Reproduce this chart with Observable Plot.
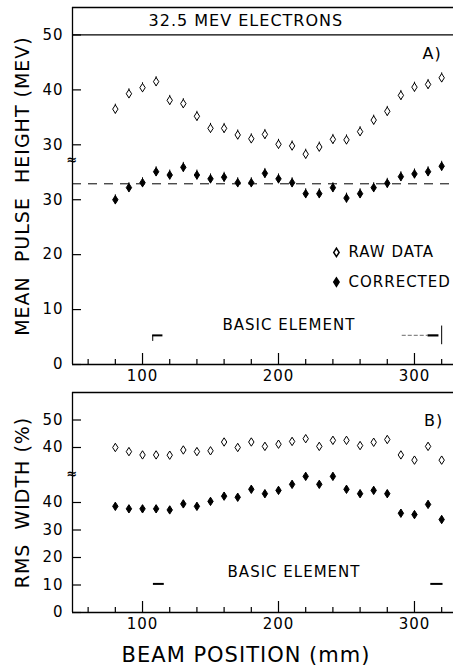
<!DOCTYPE html>
<html>
<head>
<meta charset="utf-8">
<script src="https://cdn.jsdelivr.net/npm/d3@7"></script>
<script src="https://cdn.jsdelivr.net/npm/@observablehq/plot@0.6"></script>
<style>
  html, body { margin: 0; padding: 0; background: #fff; }
  #wrap { position: relative; width: 453px; height: 671px; background: #fff; overflow: hidden; }
  #top { position: absolute; left: 0; top: 0; }
  #bot { position: absolute; left: 0; top: 388px; }
  #xtitle { position: absolute; left: 113px; top: 643px; width: 266px; text-align: center;
            font-family: "DejaVu Sans", sans-serif; font-size: 21px; letter-spacing: 1px; color: #000; white-space: nowrap; }
  svg text { letter-spacing: 1px; }
</style>
</head>
<body>
<div id="wrap">
  <div id="top"></div>
  <div id="bot"></div>
  <div id="xtitle">BEAM POSITION (mm)</div>
</div>
<script>
// ---------------- data ----------------
const beamPositions = [80, 90, 100, 110, 120, 130, 140, 150, 160, 170, 180, 190, 200,
                       210, 220, 230, 240, 250, 260, 270, 280, 290, 300, 310, 320];
// Panel A: mean pulse height (MeV)
const pulseRaw = [36.5, 39.3, 40.4, 41.5, 38.1, 37.5, 35.2, 33.0, 33.0, 31.8, 31.1, 31.9, 30.1,
                  29.8, 28.3, 29.6, 31.0, 30.9, 32.4, 34.5, 36.1, 39.0, 40.5, 41.0, 42.2];
const pulseCorrected = [30.0, 32.2, 33.1, 35.1, 34.5, 35.9, 34.5, 33.8, 34.1, 33.1, 33.1, 34.8, 33.8,
                        33.1, 31.1, 31.1, 32.2, 30.3, 31.1, 32.2, 33.0, 34.2, 34.7, 35.1, 36.1];
const pulseReference = 32.9;
// Panel B: RMS width (%)
const widthRaw = [40.0, 38.5, 37.3, 37.3, 37.2, 39.1, 38.5, 38.8, 42.0, 40.0, 42.0, 40.4, 41.2,
                  42.2, 43.2, 40.4, 42.6, 42.6, 40.7, 41.9, 42.9, 37.3, 35.4, 40.4, 35.4];
const widthCorrected = [38.6, 37.7, 37.7, 37.7, 37.3, 39.5, 38.6, 40.4, 42.3, 41.9, 44.8, 43.2, 44.4,
                        46.6, 49.5, 46.6, 49.5, 44.8, 43.2, 44.4, 43.2, 36.1, 35.6, 39.3, 33.8];
// axis ticks
const xDomain = [48.5, 328.7];
const xMajorTicks = [100, 200, 300];
const xMinorTicks = [60, 80, 120, 140, 160, 180, 220, 240, 260, 280, 320];
const pulseLowerTicks = [0, 10, 20, 30];
const pulseUpperTicks = [30, 40, 50];
const pulseBreakShift = 10;   // upper (raw) scale is shifted by this amount above the break
const pulseTop = 55;          // top of panel A in upper-scale units
const pulseBreakAt = 37.2;
const widthLowerTicks = [0, 10, 20, 30, 40];
const widthUpperTicks = [40, 50];
const widthBreakShift = 20;
const widthTop = 60;
const widthBreakAt = 50.5;
const basicElement = [110, 320];

const FONT = '"DejaVu Sans", sans-serif';

const openDiamond = {
  draw(ctx) { const w = 2.7, h = 4.2; ctx.moveTo(0, -h); ctx.lineTo(w, 0); ctx.lineTo(0, h); ctx.lineTo(-w, 0); ctx.closePath(); }
};

const pulseData = beamPositions.map((x, i) => ({x, raw: pulseRaw[i], corr: pulseCorrected[i]}));
const widthData = beamPositions.map((x, i) => ({x, raw: widthRaw[i], corr: widthCorrected[i]}));

function panel({data, height, marginTop, marginBottom, shift, top, lowerTicks, upperTicks, breakAt, err, extra, headerLine}) {
  const marginLeft = 72, width = 453;
  const innerW = width - marginLeft;
  const innerH = height - marginTop - marginBottom;
  const yTop = top + shift;
  const tickPos = lowerTicks.concat(upperTicks.map(v => v + shift));
  const labelOf = new Map(lowerTicks.map(v => [v, String(v)]).concat(upperTicks.map(v => [v + shift, String(v)])));
  return Plot.plot({
    width, height, marginLeft, marginRight: 0, marginTop, marginBottom,
    style: {fontFamily: FONT, fontSize: "15px", color: "#000", background: "#fff", overflow: "visible"},
    x: {domain: xDomain, axis: null},
    y: {domain: [0, yTop], axis: null},
    marks: [
      // frame lines
      Plot.ruleY([0], {stroke: "#000", strokeWidth: 1.3}),
      Plot.ruleY([yTop], {stroke: "#000", strokeWidth: 1.3}),
      Plot.ruleX([xDomain[0]], {stroke: "#000", strokeWidth: 1.3}),
      headerLine ? Plot.ruleY([headerLine + shift], {stroke: "#000", strokeWidth: 1.3}) : null,
      // inward y ticks
      Plot.tickY(tickPos, {y: d => d, stroke: "#000", strokeWidth: 1.2, insetRight: innerW - 9}),
      // inward x ticks
      Plot.tickX(xMinorTicks, {x: d => d, stroke: "#000", strokeWidth: 1.2, insetTop: innerH - 5}),
      Plot.tickX(xMajorTicks, {x: d => d, stroke: "#000", strokeWidth: 1.2, insetTop: innerH - 11}),
      // tick labels
      Plot.axisY(tickPos, {anchor: "left", label: null, tickSize: 0, tickPadding: 9, tickFormat: d => labelOf.get(d), fontSize: 15}),
      Plot.axisX(xMajorTicks, {anchor: "bottom", label: null, tickSize: 0, tickPadding: 6, fontSize: 15}),
      // axis break mark
      Plot.text([breakAt], {x: () => xDomain[0], y: d => d, text: () => "≈", fontSize: 13, fontWeight: "bold"}),
      // error bars
      Plot.ruleX(data, {x: "x", y1: d => d.raw + shift - err, y2: d => d.raw + shift + err, stroke: "#000", strokeWidth: 1}),
      Plot.ruleX(data, {x: "x", y1: d => d.corr - err, y2: d => d.corr + err, stroke: "#000", strokeWidth: 1}),
      // points
      Plot.dot(data, {x: "x", y: d => d.raw + shift, symbol: openDiamond, fill: "#fff", stroke: "#000", strokeWidth: 1}),
      Plot.dot(data, {x: "x", y: "corr", symbol: openDiamond, fill: "#000", stroke: "#000", strokeWidth: 1}),
      ...extra
    ]
  });
}

// ---------------- Panel A ----------------
const topChart = panel({
  data: pulseData, height: 388, marginTop: 7, marginBottom: 24, shift: pulseBreakShift, top: pulseTop,
  lowerTicks: pulseLowerTicks, upperTicks: pulseUpperTicks, breakAt: pulseBreakAt, err: 0.9, headerLine: 50,
  extra: [
    Plot.ruleY([pulseReference], {stroke: "#000", strokeWidth: 1, strokeDasharray: "9,7"}),
    Plot.text(["32.5 MEV ELECTRONS"], {x: 176, y: 62.6, text: d => d, fontSize: 16}),
    Plot.text(["A)"], {x: 313, y: 56.6, text: d => d, fontSize: 16}),
    Plot.dot([0], {x: 242.6, y: 20.4, symbol: openDiamond, fill: "#fff", stroke: "#000"}),
    Plot.dot([0], {x: 242.6, y: 15.0, symbol: openDiamond, fill: "#000", stroke: "#000"}),
    Plot.text(["RAW DATA"], {x: 251.5, y: 20.4, text: d => d, textAnchor: "start", fontSize: 15}),
    Plot.text(["CORRECTED"], {x: 251.5, y: 15.0, text: d => d, textAnchor: "start", fontSize: 15}),
    Plot.text(["BASIC ELEMENT"], {x: 207.7, y: 7.1, text: d => d, fontSize: 15}),
    // basic element markers
    Plot.ruleY([5.3], {x1: basicElement[0] - 2.5, x2: basicElement[0] + 5, stroke: "#000", strokeWidth: 2}),
    Plot.ruleX([basicElement[0] - 2.5], {y1: 4.2, y2: 5.3, stroke: "#000", strokeWidth: 1}),
    Plot.ruleY([5.3], {x1: basicElement[1] - 29, x2: basicElement[1] - 10, stroke: "#888", strokeWidth: 1.2, strokeDasharray: "4,2"}),
    Plot.ruleY([5.3], {x1: basicElement[1] - 10, x2: basicElement[1] - 2, stroke: "#000", strokeWidth: 2.2}),
    Plot.ruleX([basicElement[1]], {y1: 3.6, y2: 7.0, stroke: "#000", strokeWidth: 1}),
    Plot.text(["MEAN  PULSE  HEIGHT (MEV)"], {frameAnchor: "left", textAnchor: "middle", dx: -50, rotate: -90, text: d => d, fontSize: 19})
  ]
});
document.getElementById("top").appendChild(topChart);

// ---------------- Panel B ----------------
const botChart = panel({
  data: widthData, height: 252, marginTop: 4, marginBottom: 28, shift: widthBreakShift, top: widthTop,
  lowerTicks: widthLowerTicks, upperTicks: widthUpperTicks, breakAt: widthBreakAt, err: 1.2, headerLine: null,
  extra: [
    Plot.text(["B)"], {x: 314, y: 69.8, text: d => d, fontSize: 16}),
    Plot.text(["BASIC ELEMENT"], {x: 211.4, y: 14.5, text: d => d, fontSize: 15}),
    Plot.ruleY([10.4], {x1: basicElement[0] - 2, x2: basicElement[0] + 6, stroke: "#000", strokeWidth: 2}),
    Plot.ruleY([10.4], {x1: basicElement[1] - 8, x2: basicElement[1] + 1, stroke: "#000", strokeWidth: 2}),
    Plot.text(["RMS  WIDTH (%)"], {frameAnchor: "left", textAnchor: "middle", dx: -50, rotate: -90, text: d => d, fontSize: 19})
  ]
});
document.getElementById("bot").appendChild(botChart);
</script>
</body>
</html>
